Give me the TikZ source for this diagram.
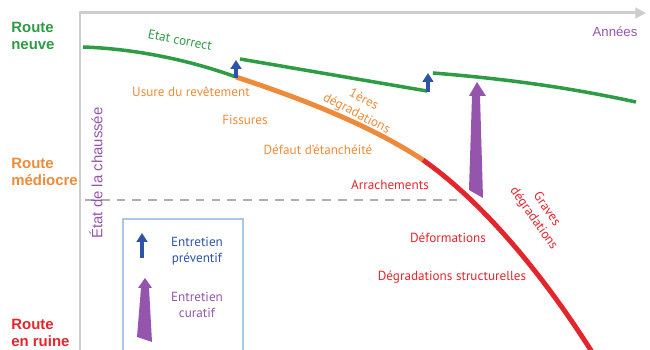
\documentclass[tikz,border=0pt]{standalone}
\usepackage{fontspec}
\setmainfont{PT Sans}
\newfontfamily\headfont{Liberation Sans}
\usetikzlibrary{arrows.meta}
\definecolor{roadgreen}{RGB}{46,155,69}
\definecolor{roadorange}{RGB}{238,139,58}
\definecolor{roadred}{RGB}{227,38,43}
\definecolor{workpurple}{RGB}{150,85,172}
\definecolor{workblue}{RGB}{45,85,165}
\definecolor{axisgray}{RGB}{205,205,205}
\definecolor{legendblue}{RGB}{170,200,230}

\begin{document}
\begin{tikzpicture}[x=0.02cm, y=-0.02cm,
  lbl/.style={font=\fontsize{7.5}{9}\selectfont, align=center, inner sep=0pt},
  level/.style={font=\headfont\bfseries\fontsize{8.5}{10}\selectfont, align=left, anchor=west, inner sep=0pt},
  blueup/.style={workblue, line width=2pt, -{Triangle[length=5pt, width=6pt]}}]
\useasboundingbox (0,0) rectangle (650,350);

\draw[axisgray, line width=1.7pt, -{Triangle[length=6pt, width=6pt]}] (80,352) -- (80,13) -- (646,13);
\draw[axisgray!85!black, line width=0.8pt, dash pattern=on 5pt off 4pt] (85,200) -- (462,200);

\node[level, text=roadgreen] (neuve) at (11,36) {Route\\neuve};
\node[level, text=roadorange] (mediocre) at (11,172) {Route\\médiocre};
\node[level, text=roadred] (ruine) at (11,333) {Route\\en ruine};
\node[font=\headfont\fontsize{7.5}{9}\selectfont, text=workpurple, inner sep=0pt] (annees) at (615,32) {Années};
\node[font=\headfont\fontsize{8.5}{10}\selectfont, text=workpurple, inner sep=0pt, rotate=90] (etat) at (96,173) {État de la chaussée};

\draw[roadgreen, line width=2pt] (83,47) .. controls (140,49) and (195,62) .. (236,77);
\draw[roadgreen, line width=2pt] (240,59) -- (427,91);
\draw[roadgreen, line width=2pt] (433,73) .. controls (520,80) and (580,90) .. (636,102);
\draw[roadorange, line width=2.8pt] (236,77) .. controls (300,98) and (370,125) .. (423,160);
\draw[roadred, line width=2.8pt] (423,160) .. controls (480,200) and (540,270) .. (592,352);

\draw[blueup] (236,78) -- (236,60);
\draw[blueup] (428,92) -- (428,73);
\fill[workpurple] (469,190) -- (472,96) -- (469,96) -- (477,82) -- (486,96) -- (480,96) -- (483,198) -- cycle;

\node[lbl, text=roadgreen, rotate=-11] (correct) at (180,40) {Etat correct};
\node[lbl, text=roadorange] (usure) at (191,92) {Usure du revêtement};
\node[lbl, text=roadorange] (fissures) at (245,120) {Fissures};
\node[lbl, text=roadorange] (defaut) at (318,150) {Défaut d'étanchéité};
\node[lbl, text=roadorange, rotate=-27] (premieres) at (360,107) {1ères\\dégradations};
\node[lbl, text=roadred] (arrach) at (390,185) {Arrachements};
\node[lbl, text=roadred] (deform) at (448,238) {Déformations};
\node[lbl, text=roadred] (struct) at (452,277) {Dégradations structurelles};
\node[lbl, text=roadred, rotate=-55] (graves) at (540,214) {Graves\\dégradations};

\draw[legendblue, line width=0.8pt] (123,219) rectangle (243,352);
\draw[blueup] (142,258) -- (142,233);
\fill[workpurple] (137,337) -- (141,288) -- (138,288) -- (145,278) -- (152,288) -- (149,288) -- (152,342) -- cycle;
\node[lbl, text=workblue] (preventif) at (197,251) {Entretien\\préventif};
\node[lbl, text=workpurple] (curatif) at (197,305) {Entretien\\curatif};
\end{tikzpicture}
\end{document}
